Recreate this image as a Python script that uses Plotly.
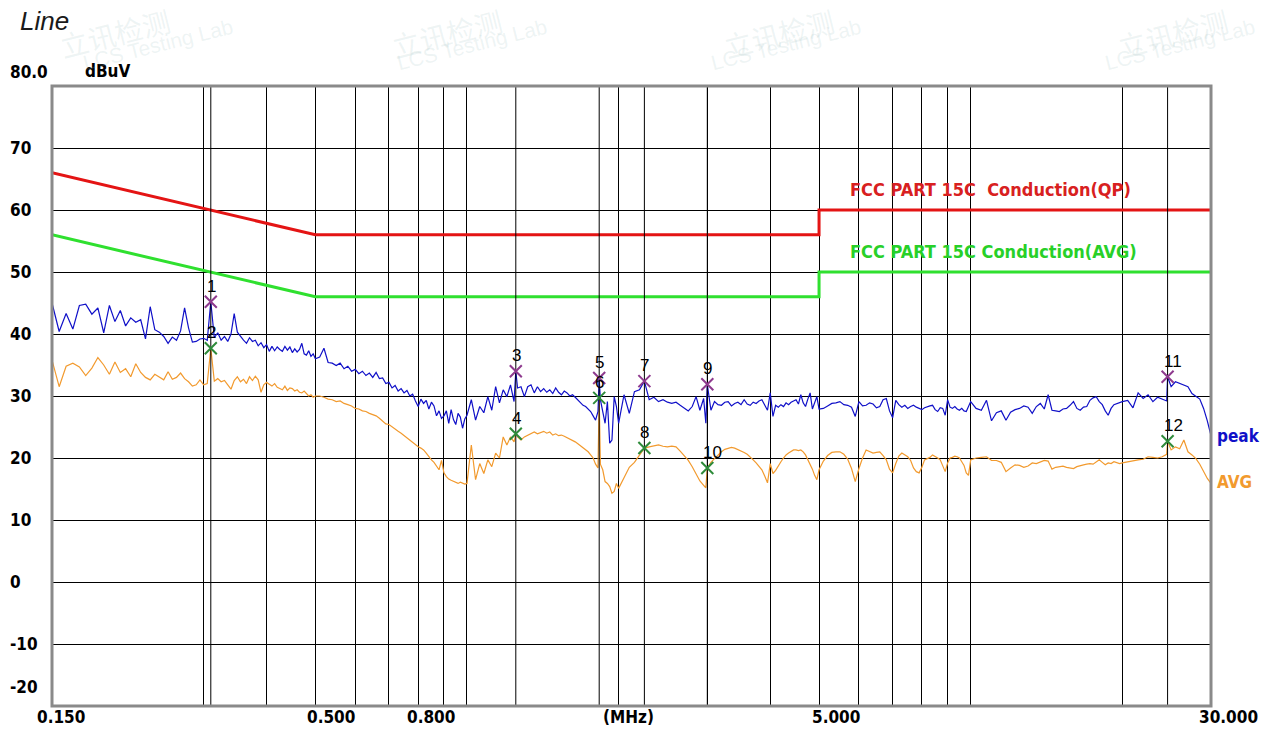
import math
import plotly.graph_objects as go

# ---------------- data ----------------
freq_a = [0.150,0.155,0.160,0.165,0.170,0.175,0.180,0.185,0.190,0.195,0.200,0.205,0.210,0.215,0.220,
          0.225,0.230,0.235,0.240,0.245,0.250,0.255,0.260,0.265,0.270,0.275,0.280,0.285,0.290,0.295,0.300]
peak_a = [45.0,40.4,43.3,40.8,44.6,44.8,43.2,44.2,40.2,44.6,42.0,43.8,41.3,42.6,41.9,
          42.3,39.2,44.4,40.7,40.3,39.6,38.5,39.5,39.0,40.5,44.2,41.0,38.7,38.8,39.2,39.3]
avg_a = [35.8,31.5,34.8,35.3,34.7,33.3,34.5,36.2,35.0,33.5,35.5,33.8,34.4,33.1,35.2,
         33.8,33.0,32.6,33.5,33.0,32.6,33.9,32.7,33.0,33.7,32.8,32.3,31.6,31.8,32.6,31.8]

freq_b = [0.305,0.310,0.315,0.320,0.325,0.330,0.335,0.340,0.345,0.350,
          0.355,0.360,0.365,0.370,0.375,0.380,0.385,0.390,0.395,0.400,
          0.405,0.410,0.415,0.420,0.425,0.430,0.435,0.440,0.445,0.450,
          0.455,0.460,0.465,0.470,0.475,0.480,0.485,0.490,0.495,0.500]
peak_b = [39.0,45.2,39.4,40.2,39.0,39.6,38.8,40.0,43.3,40.3,
          39.6,39.0,38.5,39.4,38.8,39.0,38.1,38.6,37.8,38.3,
          37.2,38.0,37.3,37.9,37.5,37.2,38.0,37.4,37.9,37.0,
          37.6,37.1,37.5,38.5,36.8,36.6,37.3,36.4,36.8,36.0]
avg_b = [32.0,37.7,32.4,32.8,32.3,32.5,31.8,31.1,32.5,33.1,
         32.3,32.7,32.0,33.1,32.5,33.2,32.6,30.6,31.8,32.2,
         31.9,31.6,32.0,31.4,31.2,31.0,31.6,30.9,31.3,31.2,
         30.8,31.0,30.6,30.5,30.8,30.3,30.0,30.2,29.8,30.0]

freq_c = [0.51,0.52,0.53,0.54,0.55,0.56,0.57,0.58,0.59,0.60,
          0.61,0.62,0.63,0.64,0.65,0.66,0.67,0.68,0.69,0.70,
          0.71,0.72,0.73,0.74,0.75,0.76,0.77,0.78,0.79,0.80,
          0.81,0.82,0.83,0.84,0.85,0.86,0.87,0.88,0.89,0.90,
          0.91,0.92,0.93,0.94,0.95,0.96,0.97,0.98,0.99,1.00]
peak_c = [36.3,37.7,35.4,35.3,34.9,35.3,34.4,34.8,34.0,34.3,
          33.6,34.0,33.3,33.7,33.0,33.8,32.8,32.9,32.0,32.2,
          31.3,31.7,30.8,31.2,30.5,30.9,30.0,30.3,29.2,28.3,
          29.5,28.8,29.3,27.9,29.0,28.4,26.8,27.6,26.4,26.8,
          27.6,25.6,27.8,26.2,25.4,27.2,26.6,24.8,26.3,26.9]
avg_c = [30.0,29.8,29.5,29.4,29.1,29.2,28.8,28.6,28.4,28.0,
         27.9,27.6,27.5,27.2,27.0,26.8,26.4,26.0,25.5,25.4,
         25.0,24.6,24.3,24.0,23.6,23.3,22.9,22.4,22.1,21.8,
         21.6,21.3,20.8,20.2,19.7,19.3,18.7,18.1,19.6,17.6,
         17.0,16.6,16.4,16.2,16.0,15.9,16.1,15.9,15.8,15.9]

freq_d = [1.02,1.04,1.06,1.08,1.10,1.12,1.14,1.16,1.18,1.20,1.22,
          1.24,1.25,1.26,
          1.28,1.30,1.32,1.34,1.36,1.38,1.40,1.42,1.44,1.46,
          1.48,1.50,1.52,1.54,1.56,1.58,1.60,1.62,1.64,1.66,
          1.68,1.70,1.72,1.74,1.76,1.78,1.80,1.82,
          1.83,
          1.84,1.86,1.88,1.90,1.92,1.94,1.96,1.98,2.00]
peak_d = [29.4,26.1,28.3,27.3,29.9,27.7,31.5,28.9,31.0,29.9,31.8,
          29.1,34.0,31.3,
          31.5,29.9,31.5,31.8,30.5,31.5,30.7,31.2,30.6,31.0,
          30.4,31.3,30.6,30.2,30.8,30.5,30.0,30.2,29.8,29.4,
          29.0,28.5,28.3,27.9,27.5,26.8,26.1,27.5,
          32.9,
          29.4,27.7,25.6,29.1,22.4,22.9,29.9,28.3,25.6]
avg_d = [22.1,16.5,19.1,17.5,19.7,18.6,20.8,20.0,23.4,22.1,23.4,
         22.6,23.9,23.4,
         22.9,23.4,23.7,24.0,24.2,23.9,24.1,24.3,24.0,24.2,
         23.7,23.9,23.6,23.7,23.5,23.3,23.1,22.9,22.6,22.3,
         22.0,21.7,21.4,21.0,20.5,20.0,19.0,18.4,
         29.7,
         19.0,18.1,16.2,15.9,15.4,14.3,14.6,15.9,15.1]

freq_e = [2.05,2.10,2.15,2.20,2.25,2.30,2.35,2.40,2.45,2.50,
          2.55,2.60,2.65,2.70,2.75,2.80,2.85,2.90,2.95,
          2.98,3.00,
          3.05,3.10,3.15,3.20,3.25,3.30,3.35,3.40,3.45,3.50,
          3.55,3.60,3.65,3.70,3.75,3.80,3.85,3.90,3.95,4.00,
          4.05,4.10,4.15,4.20,4.25,4.30,4.35,4.40,4.45,4.50,
          4.55,4.60,4.65,4.70,4.75,4.80,4.85,4.90,4.95,5.00]
peak_e = [30.2,27.2,30.7,31.0,32.4,29.4,29.8,29.1,29.4,29.0,
          28.8,29.0,28.5,28.0,27.6,28.3,29.9,27.7,29.6,
          25.6,31.9,
          27.7,29.1,28.6,28.5,29.0,29.1,28.4,28.8,29.0,28.6,
          29.4,28.7,28.5,29.0,28.8,29.2,29.4,28.4,27.7,30.5,
          26.7,28.5,28.2,28.6,28.3,28.9,28.6,29.0,29.2,29.4,
          28.7,30.2,28.9,28.3,29.5,30.5,27.9,29.0,29.9,27.9]
avg_e = [16.8,18.5,19.3,20.5,21.6,21.8,22.0,22.1,21.9,21.8,
         21.9,21.8,21.1,20.3,19.6,18.6,17.5,16.3,15.6,
         15.2,18.4,
         19.3,19.9,20.5,21.0,21.4,21.6,21.7,21.6,21.4,21.2,
         20.9,20.6,20.2,19.7,19.2,18.7,18.1,17.1,16.0,19.1,
         17.5,18.0,18.8,19.4,20.0,20.5,20.8,21.1,21.3,21.3,
         21.2,21.3,21.0,20.5,19.8,19.0,18.2,17.2,16.5,18.1]

freq_f = [5.1,5.2,5.3,5.4,5.5,5.6,5.7,5.8,5.9,6.0,
          6.1,6.2,6.3,6.4,6.5,6.6,6.7,6.8,6.9,7.0,
          7.1,7.2,7.3,7.4,7.5,7.6,7.7,7.8,7.9,8.0,
          8.1,8.2,8.3,8.4,8.5,8.6,8.7,8.8,8.9,9.0,
          9.1,9.2,9.3,9.4,9.5,9.6,9.7,9.8,9.9,10.0]
peak_f = [28.0,28.4,28.8,28.9,29.1,28.6,28.5,28.2,26.7,29.1,
          28.4,28.5,28.9,28.7,28.1,28.3,29.4,29.6,27.6,26.5,
          29.3,28.6,28.2,28.5,28.0,28.3,28.5,28.2,28.0,27.8,
          28.1,28.3,28.4,28.5,27.8,27.5,28.1,28.0,26.9,29.4,
          28.2,28.0,28.3,27.9,27.7,28.0,27.6,27.5,28.2,29.1]
avg_f = [19.5,20.4,20.9,21.0,21.0,20.6,19.8,18.3,16.2,18.3,
         20.0,21.3,21.0,20.8,20.9,21.0,20.4,19.7,18.2,17.6,
         19.1,20.3,20.8,20.5,20.2,19.6,18.4,17.8,17.6,18.5,
         19.7,19.9,20.1,20.5,20.3,20.0,19.7,18.6,17.8,19.2,
         20.0,20.1,20.3,20.2,20.0,19.4,18.8,17.6,17.2,19.7]

freq_g = [10.25,10.5,10.75,11.0,11.25,11.5,11.75,12.0,12.25,12.5,
          12.75,13.0,13.25,13.5,13.75,14.0,14.25,14.5,14.75,15.0,
          15.25,15.5,15.75,16.0,16.25,16.5,16.75,17.0,17.25,17.5,
          17.75,18.0,18.25,18.5,18.75,19.0,19.25,19.5,19.75,20.0,
          20.5,21.0,21.5,22.0,22.5,23.0,23.5,24.0,24.5,
          24.6,
          25.0,25.5,26.0,26.5,27.0,27.5,28.0,28.5,29.0,29.5,30.0]
peak_g = [28.0,27.7,29.3,26.0,27.3,27.6,26.1,27.4,27.8,28.0,
          28.4,28.2,27.2,28.3,28.8,27.9,30.2,27.7,27.6,27.5,
          27.9,28.0,28.5,29.1,28.0,27.7,28.2,28.3,29.3,29.7,
          29.9,29.1,28.6,27.6,26.9,28.0,28.6,28.8,29.0,29.1,
          29.3,28.1,30.5,29.6,30.2,29.1,29.8,29.5,29.2,
          33.1,
          31.5,32.3,32.0,31.7,31.5,30.4,30.0,29.5,28.0,26.0,23.6]
avg_g = [20.0,20.1,20.2,19.6,19.6,19.3,17.8,18.4,18.9,18.8,
         18.5,18.7,19.2,19.1,19.3,19.6,19.5,18.2,18.5,18.6,
         18.7,18.5,18.4,18.3,18.6,18.8,18.9,19.0,19.1,19.0,
         19.4,19.7,19.3,18.9,19.2,19.1,19.4,19.3,19.1,19.2,
         19.4,19.5,19.7,19.8,20.2,20.1,20.0,20.2,20.6,
         22.7,
         21.3,21.8,21.5,22.9,21.0,20.5,19.9,19.0,17.9,16.7,15.9]

freq = freq_a + freq_b + freq_c + freq_d + freq_e + freq_f + freq_g
peak = peak_a + peak_b + peak_c + peak_d + peak_e + peak_f + peak_g
avg = avg_a + avg_b + avg_c + avg_d + avg_e + avg_f + avg_g

# limit lines (FCC Part 15C conducted)
lim_freq = [0.15, 0.5, 5.0, 5.0, 30.0]
lim_qp = [66, 56, 56, 60, 60]
lim_avg = [56, 46, 46, 50, 50]

# markers
mk_no = ["1", "2", "3", "4", "5", "6", "7", "8", "9", "10", "11", "12"]
mk_freq = [0.31, 0.31, 1.25, 1.25, 1.83, 1.83, 2.25, 2.25, 3.00, 3.00, 24.6, 24.6]
mk_level = [45.2, 37.7, 34.0, 23.9, 32.9, 29.7, 32.4, 21.6, 31.9, 18.4, 33.1, 22.7]

grid_freq = [0.3, 0.4, 0.5, 0.6, 0.7, 0.8, 0.9, 1, 2, 3, 4, 5, 6, 7, 8, 9, 10, 20]
grid_level = [-10, 0, 10, 20, 30, 40, 50, 60, 70]
y_labels = ["70", "60", "50", "40", "30", "20", "10", "0", "-10"]
x_labels = ["0.150", "0.500", "0.800", "(MHz)", "5.000", "30.000"]

# ---------------- figure ----------------
W, H = 1267, 731
L, R, T, B = 52, 1211, 86, 706

def px(x):
    return (x - L) / (R - L)

def py(y):
    return (B - y) / (B - T)

BOLD = dict(family="DejaVu Sans Condensed, DejaVu Sans, Arial", size=17, color="black", weight="bold")
LEG = dict(BOLD, size=18)
WM = "rgba(150,185,185,0.16)"

fig = go.Figure()

fig.add_trace(go.Scatter(x=lim_freq, y=lim_qp, mode="lines", line=dict(color="#E41414", width=3), hoverinfo="skip"))
fig.add_trace(go.Scatter(x=lim_freq, y=lim_avg, mode="lines", line=dict(color="#2FE02F", width=3), hoverinfo="skip"))
fig.add_trace(go.Scatter(x=freq, y=avg, mode="lines", line=dict(color="#F29A2E", width=1.2), hoverinfo="skip"))
fig.add_trace(go.Scatter(x=freq, y=peak, mode="lines", line=dict(color="#1010C8", width=1.2), hoverinfo="skip"))

for f in sorted(set(mk_freq)):
    fig.add_trace(go.Scatter(x=[f, f], y=[-20, 80], mode="lines", line=dict(color="black", width=1), hoverinfo="skip"))

fig.add_trace(go.Scatter(x=mk_freq[0::2], y=mk_level[0::2], mode="markers",
                         marker=dict(symbol="x-thin", size=12, line=dict(color="#8E3A8E", width=2)), hoverinfo="skip"))
fig.add_trace(go.Scatter(x=mk_freq[1::2], y=mk_level[1::2], mode="markers",
                         marker=dict(symbol="x-thin", size=12, line=dict(color="#2E8B3A", width=2)), hoverinfo="skip"))

ann = []
for n, f, v in zip(mk_no, mk_freq, mk_level):
    ann.append(dict(x=math.log10(f), y=v, xref="x", yref="y", text=n, showarrow=False,
                    xanchor="left", yanchor="bottom", xshift=-6, yshift=4,
                    font=dict(family="Liberation Sans, Arial", size=17, color="black")))

# y labels
for lab, v in zip(y_labels, [70, 60, 50, 40, 30, 20, 10, 0, -10]):
    ann.append(dict(x=px(8), y=v, xref="paper", yref="y", text=lab, showarrow=False,
                    xanchor="left", yanchor="middle", font=BOLD))
ann.append(dict(x=px(8), y=py(72), xref="paper", yref="paper", text="80.0", showarrow=False,
                xanchor="left", yanchor="middle", font=BOLD))
ann.append(dict(x=px(8), y=py(687), xref="paper", yref="paper", text="-20", showarrow=False,
                xanchor="left", yanchor="middle", font=BOLD))
ann.append(dict(x=px(83), y=py(71), xref="paper", yref="paper", text="dBuV", showarrow=False,
                xanchor="left", yanchor="middle", font=BOLD))

# x labels
for lab, xl in zip(x_labels, [35, 305, 405, 601, 810, 1197]):
    ann.append(dict(x=px(xl), y=py(717), xref="paper", yref="paper", text=lab, showarrow=False,
                    xanchor="left", yanchor="middle", font=BOLD))

# limit / trace legends
ann.append(dict(x=px(848), y=py(189), xref="paper", yref="paper", text="FCC PART 15C \u00a0Conduction(QP)",
                showarrow=False, xanchor="left", yanchor="middle", font=dict(LEG, color="#D82020")))
ann.append(dict(x=px(848), y=py(251), xref="paper", yref="paper", text="FCC PART 15C Conduction(AVG)",
                showarrow=False, xanchor="left", yanchor="middle", font=dict(LEG, color="#28D028")))
ann.append(dict(x=px(1215), y=py(436), xref="paper", yref="paper", text="peak",
                showarrow=False, xanchor="left", yanchor="middle", font=dict(BOLD, color="#1010C8")))
ann.append(dict(x=px(1215), y=py(482), xref="paper", yref="paper", text="AVG",
                showarrow=False, xanchor="left", yanchor="middle", font=dict(BOLD, color="#F29A2E")))

# title
ann.append(dict(x=px(18), y=py(21), xref="paper", yref="paper", text="Line", showarrow=False,
                xanchor="left", yanchor="middle",
                font=dict(family="Liberation Sans, Arial", size=26, color="#1a1a1a", style="italic")))

# faint watermarks along the top edge
for cx in [78, 472, 866, 1260]:
    ann.append(dict(x=px(cx - 25), y=py(0), xref="paper", yref="paper", text="立讯检测", showarrow=False,
                    textangle=-14, yshift=2, font=dict(family="Noto Sans CJK SC", size=28, color=WM)))
    ann.append(dict(x=px(cx), y=py(24), xref="paper", yref="paper", text="LCS Testing Lab", showarrow=False,
                    textangle=-14, yshift=12, font=dict(family="Arial", size=21, color=WM)))

fig.update_layout(
    width=W, height=H,
    margin=dict(l=L, r=W - R, t=T, b=H - B, pad=0),
    paper_bgcolor="white", plot_bgcolor="white",
    showlegend=False,
    annotations=ann,
    xaxis=dict(type="log", range=[math.log10(0.15), math.log10(30)], tickvals=grid_freq,
               showticklabels=False, ticks="", showgrid=True, gridcolor="black", gridwidth=1,
               zeroline=False, showline=False),
    yaxis=dict(range=[-20, 80], tickvals=grid_level, showticklabels=False, ticks="",
               showgrid=True, gridcolor="black", gridwidth=1, zeroline=False, showline=False),
    shapes=[dict(type="rect", xref="paper", yref="paper", x0=0, x1=1, y0=0, y1=1,
                 line=dict(color="#8a8a8a", width=3), layer="above")],
)

fig.write_html("out.html", config={"displayModeBar": False},
               post_script="document.body.style.margin='0';document.body.style.overflow='hidden';")
